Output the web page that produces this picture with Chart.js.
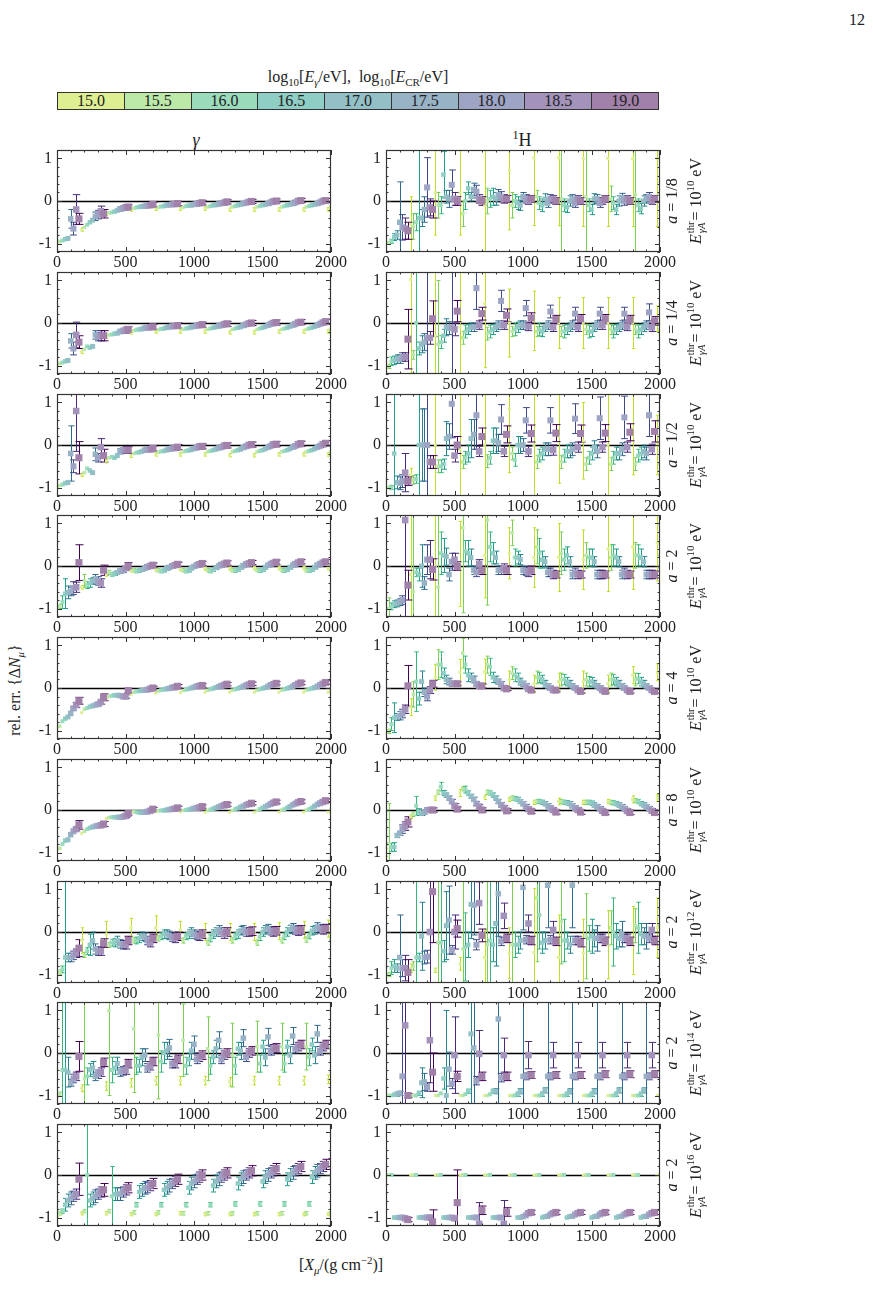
<!DOCTYPE html>
<html>
<head>
<meta charset="utf-8">
<script src="https://cdn.jsdelivr.net/npm/chart.js@4.4.1/dist/chart.umd.min.js"></script>
<style>
  body { margin: 0; background: #fff; }
  #page { position: relative; width: 873px; height: 1305px; overflow: hidden; font-family: "Liberation Serif", "DejaVu Serif", serif; color: #222; }
  .abs { position: absolute; white-space: nowrap; }
  .rot { transform: translate(-50%, -50%) rotate(-90deg); }
  .ctr { transform: translate(-50%, -50%); }
  canvas { position: absolute; }
  .ss { display: inline-block; vertical-align: middle; font-size: 0.66em; line-height: 1.0; text-align: left; margin: 0 1px; }
  sup, sub { font-size: 0.68em; line-height: 0; }
  #cbar { position: absolute; left: 57px; top: 92px; width: 602px; height: 18px; display: flex; border: 1px solid #333; box-sizing: border-box; }
  #cbar div { flex: 1; text-align: center; font-size: 16px; line-height: 16px; border-right: 1px solid #333; }
  #cbar div:last-child { border-right: none; }
</style>
</head>
<body>
<div id="page">
  <div class="abs ctr" style="left:857px; top:20px; font-size:16px;">12</div>
  <div class="abs ctr" style="left:358px; top:77px; font-size:16px;">log<sub>10</sub>[<i>E</i><sub><i>γ</i></sub>/eV], &nbsp;log<sub>10</sub>[<i>E</i><sub>CR</sub>/eV]</div>
  <div id="cbar"></div>
  <div class="abs ctr" style="left:196px; top:140px; font-size:18px;"><i>γ</i></div>
  <div class="abs ctr" style="left:522px; top:140px; font-size:18px;"><sup>1</sup>H</div>
  <div class="abs rot" style="left:15px; top:690px; font-size:16px;">rel. err. {Δ<i>N</i><sub><i>μ</i></sub>}</div>
  <div class="abs ctr" style="left:341px; top:1265px; font-size:16px;">[<i>X</i><sub><i>μ</i></sub>/(g cm<sup>−2</sup>)]</div>
</div>
<script>
// energy classes, log10(E/eV)
const energies = ["15.0", "15.5", "16.0", "16.5", "17.0", "17.5", "18.0", "18.5", "19.0"];
// X_mu bins (g cm^-2), each energy drawn 20 g cm^-2 to the right of the previous one
const binX = [0, 180, 360, 540, 720, 900, 1080, 1260, 1440, 1620, 1800, 1980];
const energyStep = 20;
const xTicks = [0, 500, 1000, 1500, 2000];
const yTicks = [-1, 0, 1];
const rowA = ["1/8", "1/4", "1/2", "2", "4", "8", "2", "2", "2"];
const rowThr = ["10", "10", "10", "10", "10", "10", "12", "14", "16"];

const fillColors = ["#deef92", "#bce8a8", "#9adbbc", "#8fcec4", "#92c0c6", "#98b3c6", "#9ea4c4", "#a393bb", "#a180a9"];
const barColors = ["#bddf26", "#7ad151", "#35b779", "#1f9e89", "#26828e", "#31688e", "#3e4989", "#482878", "#440154"];

// ---------- gamma column ----------
const gammaR1 = [
  [-0.97,-0.67,-0.3,-0.2,-0.18,-0.18,-0.18,-0.2,-0.2,-0.2,-0.2,-0.2],
  [-0.95,-0.62,-0.28,-0.17,-0.15,-0.15,-0.14,-0.14,-0.14,-0.14,-0.14,-0.14],
  [-0.93,-0.56,-0.27,-0.15,-0.13,-0.12,-0.12,-0.12,-0.12,-0.12,-0.12,-0.12],
  [-0.9,-0.5,-0.25,-0.14,-0.12,-0.11,-0.1,-0.1,-0.1,-0.1,-0.1,-0.1],
  [-0.88,-0.45,-0.22,-0.13,-0.1,-0.1,-0.09,-0.08,-0.08,-0.08,-0.08,-0.08],
  [-0.42,-0.36,-0.19,-0.12,-0.09,-0.08,-0.07,-0.06,-0.06,-0.06,-0.06,-0.06],
  [-0.65,-0.32,-0.17,-0.11,-0.08,-0.07,-0.05,-0.04,-0.03,-0.03,-0.03,-0.03],
  [-0.2,-0.24,-0.15,-0.1,-0.07,-0.05,-0.04,-0.02,-0.01,0,0,0],
  [-0.42,-0.3,-0.14,-0.08,-0.06,-0.04,-0.02,-0.01,0,0.01,0.01,0.01]
];
const gammaR1Err = [0.04, 0.03, 0.03, 0.03, 0.03,
  [0.22,0.1,0.05,0.04,0.04,0.04,0.04,0.04,0.04,0.04,0.04,0.04],
  [0.15,0.1,0.05,0.04,0.04,0.04,0.04,0.04,0.04,0.04,0.04,0.04],
  [0.35,0.12,0.06,0.05,0.05,0.05,0.05,0.05,0.05,0.05,0.05,0.05],
  [0.13,0.1,0.05,0.05,0.05,0.05,0.05,0.05,0.05,0.05,0.05,0.05]];

const gammaR2 = [
  [-0.97,-0.68,-0.32,-0.22,-0.2,-0.2,-0.2,-0.22,-0.22,-0.2,-0.2,-0.2],
  [-0.95,-0.62,-0.28,-0.18,-0.16,-0.15,-0.15,-0.15,-0.15,-0.15,-0.15,-0.15],
  [-0.93,-0.55,-0.27,-0.16,-0.14,-0.13,-0.13,-0.13,-0.13,-0.13,-0.13,-0.13],
  [-0.9,-0.58,-0.25,-0.15,-0.13,-0.12,-0.11,-0.11,-0.11,-0.11,-0.11,-0.11],
  [-0.88,-0.55,-0.24,-0.14,-0.11,-0.1,-0.09,-0.09,-0.08,-0.08,-0.08,-0.08],
  [-0.42,-0.28,-0.2,-0.12,-0.09,-0.08,-0.07,-0.06,-0.05,-0.05,-0.05,-0.05],
  [-0.6,-0.32,-0.18,-0.11,-0.08,-0.06,-0.05,-0.03,-0.02,-0.02,-0.02,-0.02],
  [-0.28,-0.3,-0.17,-0.1,-0.07,-0.05,-0.03,-0.01,0,0.01,0.01,0.01],
  [-0.45,-0.3,-0.15,-0.09,-0.06,-0.04,-0.02,0,0.01,0.02,0.03,0.03]
];
const gammaR2Err = [0.04, 0.03, 0.03, 0.03, 0.03,
  [0.17,0.1,0.05,0.04,0.04,0.04,0.04,0.04,0.04,0.04,0.04,0.04],
  [0.15,0.1,0.05,0.04,0.04,0.04,0.04,0.04,0.04,0.04,0.04,0.04],
  [0.3,0.12,0.07,0.05,0.05,0.05,0.05,0.05,0.05,0.05,0.05,0.05],
  [0.15,0.12,0.06,0.06,0.06,0.06,0.06,0.06,0.06,0.06,0.06,0.06]];

const gammaR3 = [
  [-0.97,-0.7,-0.38,-0.25,-0.22,-0.22,-0.22,-0.24,-0.24,-0.22,-0.22,-0.22],
  [-0.95,-0.65,-0.3,-0.2,-0.17,-0.16,-0.16,-0.16,-0.16,-0.16,-0.16,-0.16],
  [-0.93,-0.55,-0.28,-0.18,-0.15,-0.14,-0.14,-0.14,-0.14,-0.14,-0.14,-0.14],
  [-0.9,-0.6,-0.3,-0.17,-0.14,-0.13,-0.12,-0.12,-0.12,-0.12,-0.12,-0.12],
  [-0.88,-0.65,-0.25,-0.15,-0.12,-0.11,-0.1,-0.1,-0.09,-0.09,-0.09,-0.09],
  [-0.2,-0.22,-0.15,-0.12,-0.1,-0.08,-0.07,-0.06,-0.05,-0.05,-0.05,-0.05],
  [-0.5,-0.3,-0.12,-0.11,-0.08,-0.06,-0.05,-0.03,-0.02,-0.02,-0.02,-0.02],
  [0.8,-0.05,-0.12,-0.1,-0.07,-0.04,-0.02,0,0.01,0.02,0.02,0.02],
  [-0.3,-0.25,-0.12,-0.08,-0.05,-0.03,-0.01,0.01,0.02,0.03,0.04,0.04]
];
const gammaR3Err = [0.04, 0.03, 0.03, 0.03, 0.03,
  [0.65,0.15,0.06,0.04,0.04,0.04,0.04,0.04,0.04,0.04,0.04,0.04],
  [0.15,0.1,0.05,0.04,0.04,0.04,0.04,0.04,0.04,0.04,0.04,0.04],
  [0.95,0.2,0.08,0.06,0.06,0.06,0.06,0.06,0.06,0.06,0.06,0.06],
  [0.38,0.15,0.08,0.06,0.06,0.06,0.06,0.06,0.06,0.06,0.06,0.06]];

const gammaR4 = [
  [-0.98,-0.5,-0.2,-0.1,-0.08,-0.07,-0.06,-0.06,-0.05,-0.05,-0.05,-0.05],
  [-0.95,-0.35,-0.15,-0.1,-0.1,-0.1,-0.1,-0.1,-0.1,-0.1,-0.1,-0.1],
  [-0.85,-0.45,-0.2,-0.12,-0.12,-0.12,-0.12,-0.11,-0.11,-0.11,-0.11,-0.11],
  [-0.65,-0.4,-0.18,-0.11,-0.1,-0.1,-0.09,-0.08,-0.08,-0.08,-0.08,-0.08],
  [-0.62,-0.35,-0.15,-0.08,-0.06,-0.05,-0.04,-0.03,-0.03,-0.03,-0.03,-0.03],
  [-0.6,-0.3,-0.12,-0.05,-0.03,-0.01,0,0.01,0.02,0.02,0.02,0.02],
  [-0.52,-0.35,-0.1,-0.02,0,0.02,0.03,0.04,0.05,0.05,0.05,0.05],
  [-0.5,-0.4,-0.05,0,0.02,0.04,0.05,0.06,0.07,0.08,0.08,0.08],
  [0.08,-0.1,0,0.02,0.04,0.06,0.07,0.08,0.09,0.1,0.1,0.1]
];
const gammaR4Err = [0.04,
  [0.05,0.15,0.05,0.04,0.04,0.04,0.04,0.04,0.04,0.04,0.04,0.04],
  [0.15,0.08,0.04,0.04,0.04,0.04,0.04,0.04,0.04,0.04,0.04,0.04],
  [0.35,0.1,0.04,0.04,0.04,0.04,0.04,0.04,0.04,0.04,0.04,0.04],
  [0.15,0.08,0.04,0.04,0.04,0.04,0.04,0.04,0.04,0.04,0.04,0.04],
  [0.1,0.1,0.05,0.04,0.04,0.04,0.04,0.04,0.04,0.04,0.04,0.04],
  [0.15,0.1,0.05,0.05,0.05,0.05,0.05,0.05,0.05,0.05,0.05,0.05],
  [0.12,0.1,0.05,0.05,0.05,0.05,0.05,0.05,0.05,0.05,0.05,0.05],
  [0.42,0.12,0.08,0.05,0.05,0.05,0.05,0.05,0.05,0.05,0.05,0.05]];

const gammaR5 = [
  [-0.98,-0.58,-0.25,-0.15,-0.12,-0.11,-0.1,-0.1,-0.1,-0.1,-0.1,-0.1],
  [-0.9,-0.5,-0.2,-0.1,-0.07,-0.06,-0.05,-0.05,-0.05,-0.05,-0.05,-0.05],
  [-0.78,-0.47,-0.18,-0.08,-0.05,-0.04,-0.03,-0.03,-0.03,-0.03,-0.03,-0.03],
  [-0.72,-0.44,-0.17,-0.07,-0.03,-0.02,-0.01,-0.01,-0.01,-0.01,-0.01,-0.01],
  [-0.68,-0.42,-0.17,-0.06,-0.02,0,0.01,0.01,0.01,0.01,0.01,0.01],
  [-0.6,-0.4,-0.18,-0.05,-0.01,0.02,0.03,0.04,0.04,0.04,0.04,0.04],
  [-0.48,-0.38,-0.2,-0.04,0.01,0.04,0.05,0.06,0.07,0.07,0.07,0.07],
  [-0.4,-0.33,-0.2,-0.02,0.02,0.05,0.07,0.08,0.09,0.1,0.1,0.1],
  [-0.3,-0.22,-0.06,0,0.04,0.06,0.09,0.1,0.11,0.12,0.13,0.13]
];
const gammaR5Err = [0.03, 0.03, 0.03, 0.03, 0.03, 0.03, 0.04,
  [0.06,0.05,0.04,0.04,0.04,0.04,0.04,0.04,0.04,0.04,0.04,0.04],
  [0.08,0.08,0.05,0.04,0.04,0.04,0.04,0.04,0.04,0.04,0.04,0.04]];

const gammaR6 = [
  [-0.95,-0.55,-0.2,-0.05,-0.04,-0.04,-0.05,-0.05,-0.05,-0.05,-0.05,-0.05],
  [-0.9,-0.5,-0.18,-0.04,-0.02,-0.01,-0.01,-0.01,-0.01,0,0,0],
  [-0.8,-0.45,-0.17,-0.05,-0.01,0,0.01,0.02,0.02,0.02,0.02,0.02],
  [-0.72,-0.42,-0.17,-0.06,-0.01,0.01,0.03,0.04,0.05,0.05,0.05,0.05],
  [-0.7,-0.4,-0.17,-0.06,0,0.02,0.05,0.07,0.08,0.08,0.09,0.09],
  [-0.58,-0.38,-0.17,-0.05,0.01,0.04,0.07,0.09,0.11,0.12,0.13,0.13],
  [-0.5,-0.37,-0.16,-0.04,0.02,0.05,0.09,0.12,0.14,0.15,0.16,0.16],
  [-0.45,-0.36,-0.14,-0.02,0.03,0.06,0.11,0.14,0.17,0.18,0.19,0.19],
  [-0.35,-0.33,-0.08,0.02,0.05,0.08,0.13,0.16,0.19,0.2,0.22,0.22]
];
const gammaR6Err = [0.03, 0.03, 0.03, 0.03, 0.03, 0.03, 0.03, 0.04,
  [0.1,0.06,0.04,0.04,0.04,0.04,0.04,0.04,0.04,0.04,0.04,0.04]];

const gammaR7 = [
  [-0.98,-0.2,-0.05,0.1,0.1,0.05,0,0,0,0.02,0.05,0.08],
  [-0.95,-0.54,-0.3,-0.2,-0.15,-0.2,-0.25,-0.2,-0.25,-0.2,-0.18,-0.15],
  [-0.88,-0.45,-0.25,-0.2,-0.1,-0.1,-0.15,-0.1,-0.12,-0.1,-0.08,-0.08],
  [-0.6,-0.3,-0.25,-0.15,-0.05,-0.05,-0.05,-0.05,0,0,0.03,0.03],
  [-0.6,-0.2,-0.2,-0.1,-0.05,0,0,0.03,0.05,0.06,0.05,0.05],
  [-0.6,-0.4,-0.28,-0.12,-0.08,-0.05,0.05,0.05,0.08,0.1,0.12,0.12],
  [-0.55,-0.45,-0.3,-0.2,-0.12,-0.08,0,0,0.03,0.05,0.08,0.08],
  [-0.5,-0.45,-0.3,-0.25,-0.15,-0.1,-0.05,0,0,0.02,0.05,0.05],
  [-0.38,-0.26,-0.2,-0.15,-0.1,-0.05,0,0.02,0.03,0.05,0.08,0.08]
];
const gammaR7Err = [
  [0.04,0.3,0.3,0.22,0.28,0.2,0.2,0.2,0.2,0.2,0.2,0.2],
  0.06, 0.08,
  [1.8,0.25,0.1,0.1,0.1,0.1,0.1,0.1,0.1,0.1,0.1,0.1],
  [0.1,0.2,0.1,0.1,0.1,0.1,0.1,0.1,0.1,0.1,0.1,0.1],
  [0.1,0.12,0.1,0.1,0.1,0.1,0.1,0.1,0.1,0.1,0.1,0.1],
  0.1, 0.1,
  [0.2,0.1,0.1,0.1,0.1,0.1,0.1,0.1,0.1,0.1,0.1,0.1]];

const gammaR8 = [
  [-1.05,-0.83,-0.78,-0.7,-0.65,-0.65,-0.65,-0.68,-0.65,-0.65,-0.65,-0.62],
  [-0.97,-0.6,1.0,0.57,0.42,0.3,0.1,-0.05,0.15,0.15,0.15,0.1],
  [-0.4,-0.55,-0.4,-0.3,-0.2,-0.3,-0.3,-0.3,-0.25,-0.25,-0.1,-0.1],
  [-0.4,-0.4,-0.35,-0.3,0,-0.15,-0.1,0.1,0.15,0.15,0.2,0.2],
  [-0.45,-0.35,-0.25,-0.1,0.05,0.05,0.1,0.05,-0.1,-0.05,-0.05,-0.05],
  [-0.7,-0.55,-0.45,-0.05,0.12,0.2,0.3,0.35,0.38,0.4,0.45,0.45],
  [-0.6,-0.5,-0.42,-0.35,-0.25,-0.15,-0.15,-0.1,0.05,0.1,0.05,0.05],
  [-0.55,-0.45,-0.4,-0.3,-0.25,-0.1,-0.05,0,0.1,0.15,0.15,0.15],
  [-0.08,-0.22,-0.25,-0.2,-0.15,-0.05,0,0.05,0.12,0.2,0.2,0.2]
];
const gammaR8Err = [
  [0.65,0.08,0.1,0.1,0.1,0.1,0.1,0.1,0.1,0.1,0.1,0.1],
  [0.05,1.8,2,1.5,1.5,0.85,0.75,0.75,0.6,0.55,0.55,0.55],
  [2,0.2,0.3,0.2,0.25,0.2,0.2,0.2,0.2,0.2,0.2,0.2],
  [1.8,0.15,0.15,0.15,0.25,0.15,0.15,0.15,0.15,0.15,0.15,0.15],
  [0.35,0.15,0.15,0.2,0.2,0.2,0.2,0.2,0.2,0.2,0.2,0.2],
  [0.08,0.1,0.1,0.15,0.2,0.2,0.2,0.2,0.2,0.2,0.2,0.2],
  0.1, 0.1,
  [0.35,0.1,0.1,0.1,0.1,0.1,0.1,0.1,0.1,0.1,0.1,0.1]];

const gammaR9 = [
  [-0.95,-0.9,-0.9,-0.92,-0.92,-0.9,-0.92,-0.92,-0.92,-0.92,-0.92,-0.92],
  [-0.9,-0.85,-0.85,-0.88,-0.88,-0.9,-0.9,-0.9,-0.9,-0.9,-0.9,-0.9],
  [-0.85,0,-0.5,-0.7,-0.7,-0.7,-0.7,-0.68,-0.68,-0.68,-0.68,-0.68],
  [-0.7,-0.6,-0.45,-0.4,-0.35,-0.3,-0.25,-0.2,-0.15,-0.1,-0.05,-0.05],
  [-0.6,-0.55,-0.45,-0.35,-0.3,-0.2,-0.15,-0.1,-0.05,0,0.05,0.05],
  [-0.55,-0.5,-0.45,-0.3,-0.25,-0.15,-0.1,-0.05,0,0.05,0.1,0.1],
  [-0.5,-0.45,-0.4,-0.3,-0.2,-0.1,-0.05,0,0.05,0.1,0.15,0.15],
  [-0.45,-0.4,-0.35,-0.25,-0.15,-0.05,0,0.05,0.1,0.15,0.2,0.2],
  [-0.1,-0.35,-0.3,-0.2,-0.1,0,0.05,0.1,0.15,0.2,0.25,0.25]
];
const gammaR9Err = [0.04, 0.04,
  [0.05,1.8,0.7,0.05,0.05,0.05,0.05,0.05,0.05,0.05,0.05,0.05],
  0.15, 0.15, 0.15, 0.12, 0.12,
  [0.38,0.15,0.12,0.12,0.12,0.12,0.12,0.12,0.12,0.12,0.12,0.12]];

// ---------- 1H column ----------
const protonR1 = [
  [-0.98,-0.55,0.2,0.2,-0.1,0.72,1.02,1.02,1.0,1.0,1.0,1.0],
  [-0.98,-0.6,-0.1,-0.3,0,-0.1,0.1,0.05,0.1,0.05,0.15,0.15],
  [-0.95,-0.5,-0.1,0,0.05,0,-0.05,-0.1,-0.1,-0.05,-0.1,-0.1],
  [-0.85,-0.4,0.62,0.3,0.1,-0.05,-0.1,-0.15,-0.2,-0.2,-0.18,-0.18],
  [-0.8,-0.4,0.1,0.1,0.05,-0.1,0.05,0,0.05,0,0,0],
  [-0.5,-0.2,0.05,0.27,0.15,0.1,-0.05,0.05,0.05,0.08,0.05,0.05],
  [-0.62,0.32,0.38,0.22,0.1,0.05,0.05,-0.05,-0.05,0,0.1,0.1],
  [-0.65,-0.15,0.05,0.05,0.05,0,0.05,0.05,0,0.05,0,0],
  [-0.7,-0.2,0,0,0.05,0.05,0,0,0.05,0,0.05,0.05]
];
const protonR1Err = [
  [0.03,0.65,1.0,1.0,1.4,1.4,1.6,1.6,1.6,1.6,1.6,1.6],
  [0.03,0.3,0.3,0.3,0.3,0.3,0.15,1.5,1.5,0.3,1.5,0.3],
  [0.05,0.2,0.2,0.2,0.2,0.15,0.15,0.15,0.15,0.15,0.15,0.15],
  [0.08,1.8,0.55,0.15,0.2,0.15,0.15,0.12,0.12,0.12,0.12,0.12],
  [0.1,0.2,0.15,0.1,0.15,0.12,0.12,0.12,0.12,0.12,0.12,0.12],
  [0.95,0.3,0.2,0.15,0.12,0.1,0.1,0.1,0.1,0.1,0.1,0.1],
  [0.3,0.7,0.35,0.15,0.12,0.1,0.1,0.1,0.1,0.1,0.1,0.1],
  [0.25,0.2,0.15,0.1,0.1,0.08,0.08,0.08,0.08,0.08,0.08,0.08],
  [0.2,0.2,0.1,0.1,0.08,0.08,0.08,0.08,0.08,0.08,0.08,0.08]];

const protonR2 = [
  [-1,1.02,-0.3,-0.1,0.45,0,0.05,0,0,0,0,0.1],
  [-1.02,-0.75,-0.5,-0.35,-0.25,-0.2,-0.2,-0.2,-0.15,-0.15,-0.15,-0.15],
  [-0.9,0,-0.45,-0.2,-0.2,-0.15,-0.15,-0.2,-0.2,-0.2,-0.2,-0.2],
  [-0.88,-0.6,-0.3,-0.15,-0.15,-0.1,-0.2,-0.15,-0.2,-0.15,-0.15,-0.15],
  [-0.85,-0.5,-0.1,-0.1,-0.1,-0.05,-0.1,-0.1,-0.1,-0.1,-0.1,-0.1],
  [-0.85,-0.45,-0.12,-0.1,-0.05,-0.05,-0.05,-0.05,-0.05,-0.05,-0.05,-0.05],
  [-0.8,-0.35,-0.1,0.82,0.52,0.35,0.27,0.22,0.22,0.22,0.25,0.25],
  [-0.8,-0.35,-0.15,-0.05,-0.05,-0.08,-0.1,-0.1,-0.05,-0.08,-0.1,-0.1],
  [-0.38,0.1,0.28,0.22,0.18,0.12,0.08,0.1,0.1,0.08,0.05,0.05]
];
const protonR2Err = [
  [0.03,2.2,1.6,2.0,1.5,0.8,0.7,0.6,0.6,0.6,0.6,0.3],
  [0.05,0.1,1.5,0.15,0.15,0.12,0.12,0.12,0.12,0.12,0.12,0.12],
  [0.1,1.2,0.15,0.15,0.15,0.15,0.15,0.15,0.15,0.15,0.15,0.15],
  [0.1,0.15,0.15,0.12,0.12,0.12,0.12,0.12,0.12,0.12,0.12,0.12],
  [0.1,0.2,0.2,0.1,0.1,0.1,0.1,0.1,0.1,0.1,0.1,0.1],
  [0.1,0.2,0.15,0.1,0.1,0.1,0.1,0.1,0.1,0.1,0.1,0.1],
  [0.1,1.6,1.5,0.5,0.25,0.18,0.15,0.15,0.15,0.15,0.2,0.2],
  [0.1,0.15,0.15,0.1,0.1,0.1,0.1,0.1,0.1,0.1,0.1,0.1],
  [0.7,0.42,0.25,0.15,0.15,0.12,0.1,0.1,0.1,0.1,0.1,0.1]];

const protonR3 = [
  [-1,-0.7,0,-0.1,0,0.85,0,0.2,0.1,0,0.4,0],
  [-1,-0.82,-0.5,-0.4,-0.38,-0.2,-0.4,-0.4,-0.45,-0.45,-0.45,-0.45],
  [-1,-0.8,-0.5,-0.3,-0.3,-0.35,-0.25,-0.25,-0.3,-0.3,-0.25,-0.25],
  [-0.2,0,-0.45,-0.2,0.1,0,-0.2,-0.15,-0.2,-0.2,-0.2,-0.2],
  [-0.88,0,0.15,0.15,0.1,0,-0.1,-0.15,-0.05,-0.2,-0.15,-0.15],
  [-0.9,0,0.2,0.25,0.05,0,-0.1,-0.1,-0.15,-0.1,-0.2,-0.2],
  [-0.85,0,0.97,0.7,0.6,0.58,0.58,0.62,0.63,0.65,0.7,0.7],
  [-0.65,-0.4,-0.25,-0.15,-0.15,-0.15,-0.12,-0.05,-0.05,-0.05,-0.1,-0.1],
  [-0.85,-0.4,0,0.2,0.25,0.27,0.28,0.27,0.28,0.3,0.32,0.32]
];
const protonR3Err = [
  [0.03,0.15,2,2,2,1.5,2,1.1,0.9,1.5,1.1,0.7],
  [0.03,0.1,0.15,0.15,0.15,0.15,0.15,0.15,0.15,0.15,0.15,0.15],
  [0.05,0.1,0.15,0.15,0.15,0.15,0.15,0.15,0.15,0.15,0.15,0.15],
  [2,1.5,0.12,0.2,0.3,0.2,0.15,0.15,0.15,0.15,0.15,0.15],
  [0.15,0.85,0.4,0.45,0.3,0.2,0.15,0.15,0.15,0.15,0.15,0.15],
  [0.15,0.85,0.3,0.35,0.2,0.15,0.15,0.15,0.15,0.15,0.15,0.15],
  [0.15,2,0.8,0.8,0.35,0.3,0.3,0.35,0.5,0.5,0.5,0.5],
  [0.45,0.15,0.15,0.12,0.12,0.12,0.12,0.12,0.12,0.12,0.12,0.12],
  [0.1,0.15,0.2,0.2,0.2,0.2,0.2,0.2,0.2,0.2,0.25,0.25]];

const protonR4 = [
  [-1,-0.2,0,0.05,0.25,0.3,0.2,0.2,0.15,0.4,0.45,0.55],
  [-1,-0.6,-0.5,0.9,1.08,0.78,0.45,0.3,0.25,0.2,0.25,0.25],
  [-0.95,-0.15,0.3,0.35,0.45,0.2,0.3,0.15,0.2,0.25,0.25,0.25],
  [-0.9,-0.2,0.25,0.3,0.3,0.2,0.15,0.25,0.2,0.2,0.2,0.2],
  [-0.88,0,0.22,0.2,0.2,0.15,0.1,0.1,0.1,0.1,0.1,0.1],
  [-0.85,-0.4,-0.2,-0.1,-0.1,-0.1,-0.15,-0.2,-0.2,-0.2,-0.2,-0.2],
  [-0.8,0.15,0.1,-0.15,-0.1,-0.12,-0.15,-0.15,-0.2,-0.15,-0.2,-0.2],
  [1.08,0.15,0.15,0.05,-0.05,-0.15,-0.2,-0.2,-0.2,-0.2,-0.2,-0.2],
  [-0.45,-0.08,0,-0.1,-0.1,-0.1,-0.2,-0.2,-0.2,-0.2,-0.2,-0.2]
];
const protonR4Err = [
  [0.03,2,1.4,1,1,0.6,0.7,0.8,0.7,1,1,0.9],
  [0.25,2,2,2,2,0.3,0.4,0.5,0.3,0.3,0.3,0.3],
  [0.08,0.1,0.5,0.25,0.35,0.2,0.35,0.25,0.2,0.25,0.25,0.25],
  [0.08,0.15,0.4,0.3,0.25,0.15,0.2,0.2,0.2,0.2,0.2,0.2],
  [0.08,0.5,0.2,0.2,0.15,0.12,0.12,0.12,0.12,0.12,0.12,0.12],
  [0.08,0.15,0.15,0.1,0.1,0.1,0.1,0.1,0.1,0.1,0.1,0.1],
  [0.1,0.35,0.2,0.1,0.1,0.1,0.1,0.1,0.1,0.1,0.1,0.1],
  [2.3,0.45,0.15,0.1,0.1,0.1,0.1,0.1,0.1,0.1,0.1,0.1],
  [0.35,0.25,0.1,0.1,0.1,0.1,0.08,0.08,0.08,0.08,0.08,0.08]];

const protonR5 = [
  [-1,-0.45,0.25,0.37,0.38,0.2,0.1,0.15,0.15,0.1,0.3,0.37],
  [-1.02,-0.15,0.55,0.82,0.55,0.35,0.25,0.2,0.2,0.2,0.2,0.2],
  [-0.85,0.15,0.55,0.55,0.5,0.3,0.25,0.2,0.15,0.2,0.22,0.22],
  [-0.7,-0.25,0.35,0.3,0.25,0.25,0.2,0.15,0.15,0.15,0.15,0.15],
  [-0.68,0.15,0.2,0.25,0.2,0.15,0.1,0.1,0.1,0.1,0.1,0.1],
  [-0.65,-0.1,0.15,0.2,0.15,0.1,0.05,0.05,0.05,0.05,0.05,0.05],
  [-0.6,-0.2,0.1,0.1,0.1,0.05,0,0,0,0,0,0],
  [-0.5,-0.05,0.1,0.05,0,-0.02,-0.05,-0.05,-0.05,-0.05,-0.05,-0.05],
  [0.05,0.1,0.1,0.05,-0.02,-0.05,-0.05,-0.08,-0.08,-0.08,-0.08,-0.08]
];
const protonR5Err = [
  [0.03,0.2,0.3,0.3,0.3,0.2,0.2,0.2,0.25,0.2,0.2,0.2],
  [0.05,0.3,0.35,0.35,0.2,0.15,0.15,0.15,0.15,0.15,0.15,0.15],
  [0.15,0.7,0.3,0.2,0.2,0.15,0.12,0.12,0.12,0.12,0.12,0.12],
  [0.35,0.15,0.12,0.15,0.12,0.1,0.1,0.1,0.1,0.1,0.1,0.1],
  [0.08,0.25,0.1,0.1,0.08,0.08,0.08,0.08,0.08,0.08,0.08,0.08],
  [0.1,0.1,0.08,0.08,0.06,0.06,0.05,0.05,0.05,0.05,0.05,0.05],
  [0.1,0.1,0.06,0.05,0.05,0.05,0.05,0.05,0.05,0.05,0.05,0.05],
  [0.1,0.08,0.05,0.05,0.05,0.05,0.04,0.04,0.04,0.04,0.04,0.04],
  [0.48,0.08,0.05,0.05,0.04,0.04,0.04,0.04,0.04,0.04,0.04,0.04]];

const protonR6 = [
  [-1,-0.15,0.28,0.4,0.3,0.25,0.18,0.2,0.18,0.2,0.25,0.28],
  [-0.8,-0.1,0.42,0.5,0.42,0.28,0.2,0.2,0.18,0.18,0.22,0.3],
  [-0.88,0.1,0.55,0.48,0.4,0.27,0.2,0.18,0.18,0.17,0.2,0.2],
  [-0.87,-0.05,0.4,0.4,0.35,0.25,0.18,0.17,0.16,0.15,0.15,0.15],
  [-0.6,-0.08,0.35,0.32,0.28,0.2,0.15,0.15,0.12,0.12,0.12,0.12],
  [-0.55,-0.05,0.28,0.25,0.2,0.15,0.1,0.1,0.08,0.08,0.08,0.08],
  [-0.45,0,0.2,0.15,0.12,0.08,0.05,0.05,0.03,0.03,0.03,0.03],
  [-0.38,0,0.1,0.08,0.05,0.02,0,0,-0.02,-0.02,-0.02,-0.02],
  [-0.28,0,0.02,0,-0.02,-0.03,-0.05,-0.05,-0.06,-0.06,-0.06,-0.06]
];
const protonR6Err = [
  [0.1,0.05,0.05,0.08,0.05,0.05,0.05,0.08,0.05,0.05,0.08,0.08],
  [0.95,0.05,0.05,0.05,0.05,0.05,0.05,0.05,0.05,0.05,0.05,0.05],
  [0.1,0.22,0.1,0.08,0.05,0.05,0.05,0.05,0.05,0.05,0.05,0.05],
  [0.1,0.08,0.06,0.05,0.05,0.05,0.05,0.05,0.05,0.05,0.05,0.05],
  0.05, 0.05,
  [0.1,0.05,0.05,0.05,0.05,0.05,0.05,0.05,0.05,0.05,0.05,0.05],
  [0.1,0.05,0.05,0.05,0.05,0.05,0.05,0.05,0.05,0.05,0.05,0.05],
  [0.12,0.05,0.05,0.05,0.05,0.05,0.05,0.05,0.05,0.05,0.05,0.05]];

const protonR7 = [
  [-1,-0.85,-0.9,-0.75,-0.6,-0.5,-0.48,-0.6,-0.5,-0.3,-0.2,0.1],
  [-1,-0.8,-0.25,-0.4,-0.3,-0.3,0.8,0.25,-0.1,0.1,0.15,0.15],
  [-0.85,-0.6,-0.25,-0.35,-0.2,-0.3,0.4,-0.2,-0.15,0,0.1,0.1],
  [-0.8,-0.6,-0.45,-0.3,-0.3,-0.3,-0.25,-0.2,-0.1,-0.1,-0.05,-0.05],
  [-0.85,-0.1,0.15,0.65,0.2,-0.2,-0.2,-0.3,-0.15,-0.15,-0.1,-0.1],
  [-0.6,-0.6,0.28,0.63,0.9,1.05,1.1,1.1,-0.15,-0.05,-0.1,-0.1],
  [-0.85,-0.58,-0.42,-0.3,-0.22,-0.18,-0.18,-0.2,-0.15,-0.15,-0.15,-0.15],
  [-0.85,0,0,0.68,0.38,0.2,0.05,-0.2,-0.15,-0.15,0.05,0.05],
  [-0.95,0.95,0.08,-0.08,-0.15,-0.2,-0.22,-0.25,-0.22,-0.22,-0.2,-0.2]
];
const protonR7Err = [
  [0.03,0.1,0.05,0.15,0.65,0.6,1.5,1,0.8,0.8,0.8,0.7],
  [0.05,0.1,2,2,2,1.5,1.5,1,1,0.4,0.4,0.4],
  [0.15,2,2,0.8,2,0.3,0.8,0.5,0.3,0.8,0.6,0.6],
  [0.15,0.1,0.25,0.3,0.4,0.2,0.25,0.2,0.4,0.3,0.25,0.25],
  [0.1,0.8,0.8,0.8,1,0.2,0.2,0.2,0.2,0.2,0.2,0.2],
  [1,0.15,0.8,0.7,1,1,1,1,0.3,0.3,0.3,0.3],
  [0.2,0.15,0.1,0.12,0.1,0.1,0.1,0.1,0.1,0.1,0.1,0.1],
  [0.3,2,0.4,0.5,0.3,0.2,0.2,0.1,0.1,0.1,0.15,0.15],
  [0.3,1.2,0.2,0.15,0.1,0.1,0.1,0.1,0.1,0.1,0.1,0.1]];

const protonR8 = [
  [-1,-1,-1,-1,-1,-1,-1,-1,-1,-1,-1,-1],
  [-1,-1,-1,-1,-1,-1,-1,-1,-1,-1,-1,-1],
  [-1,-1,-0.95,-0.97,-0.97,-1,-1,-1,-1,-1,-1,-1],
  [-0.98,-0.95,-0.6,-0.9,-0.9,-0.97,-0.97,-0.97,-0.97,-0.97,-0.97,-0.97],
  [-0.97,-0.7,-1,0.45,-0.9,-0.9,-0.88,-0.9,-0.9,-0.88,-0.88,-0.88],
  [-0.95,-0.68,-0.38,0.12,0.8,-0.55,-0.55,-0.55,-0.55,-0.55,-0.55,-0.55],
  [-0.55,-0.8,-0.72,-0.65,-0.58,-0.55,-0.55,-0.55,-0.55,-0.55,-0.55,-0.55],
  [0.65,0.3,-0.05,-0.02,-0.05,-0.05,-0.05,-0.05,-0.05,-0.05,-0.05,-0.05],
  [-1,-0.45,-0.55,-0.55,-0.55,-0.52,-0.52,-0.52,-0.5,-0.5,-0.5,-0.5]
];
const protonR8Err = [0.02, 0.02, 0.03,
  [0.03,0.05,0.25,0.05,0.05,0.05,0.05,0.05,0.05,0.05,0.05,0.05],
  [0.05,0.35,2,2,0.06,0.06,0.06,0.06,0.06,0.06,0.06,0.06],
  [0.05,0.2,0.4,2,2,2,2,2,2,2,2,2],
  [2,0.1,0.12,0.1,0.1,0.08,0.08,0.08,0.08,0.08,0.08,0.08],
  [2,1,0.9,0.55,0.4,0.32,0.3,0.3,0.3,0.3,0.3,0.3],
  [0.05,0.45,0.12,0.1,0.1,0.08,0.08,0.08,0.08,0.08,0.08,0.08]];

const protonR9 = [
  [0,0,0,0,0,0,0,0,0,0,0,0],
  [0,0,0,0,0,0,0,0,0,0,0,0],
  [0,0,0,0,0,0,0,0,0,0,0,0],
  [-1,-1,-1,-1,-1,-1,-1,-1,-1,-1,-1,-1],
  [-1,-1,-1,-1,-1,-1,-0.98,-0.98,-0.98,-0.98,-0.98,-0.98],
  [-1,-1,-1,-1,-1,-0.98,-0.97,-0.97,-0.97,-0.97,-0.97,-0.97],
  [-1,-1,-1,-1,-1,-0.95,-0.93,-0.93,-0.93,-0.93,-0.93,-0.93],
  [-1.02,-1,-1.02,-1.15,-1.15,-0.9,-0.9,-0.9,-0.9,-0.9,-0.9,-0.9],
  [-1.05,-1.1,-0.65,-0.83,-0.87,-0.88,-0.88,-0.88,-0.88,-0.88,-0.88,-0.88]
];
const protonR9Err = [0.01, 0.01, 0.01, 0.02, 0.02, 0.02, 0.02,
  [0.03,0.03,0.03,0.5,0.55,0.05,0.05,0.05,0.05,0.05,0.05,0.05],
  [0.05,0.28,0.77,0.1,0.1,0.05,0.05,0.05,0.05,0.05,0.05,0.05]];

const gammaPanels = [gammaR1, gammaR2, gammaR3, gammaR4, gammaR5, gammaR6, gammaR7, gammaR8, gammaR9];
const gammaErrs = [gammaR1Err, gammaR2Err, gammaR3Err, gammaR4Err, gammaR5Err, gammaR6Err, gammaR7Err, gammaR8Err, gammaR9Err];
const protonPanels = [protonR1, protonR2, protonR3, protonR4, protonR5, protonR6, protonR7, protonR8, protonR9];
const protonErrs = [protonR1Err, protonR2Err, protonR3Err, protonR4Err, protonR5Err, protonR6Err, protonR7Err, protonR8Err, protonR9Err];

// ---------- layout ----------
const page = document.getElementById("page");
const colLeft = [57, 386];
const boxW = 274, boxH = 102;
const firstTop = 150, rowPitch = 121.75;
const padL = 30, padT = 8, padR = 22, padB = 20;
const tickFont = { family: "'Liberation Serif', 'DejaVu Serif', serif", size: 16 };

const cbar = document.getElementById("cbar");
energies.forEach((e, i) => {
  const d = document.createElement("div");
  d.style.background = fillColors[i];
  d.textContent = e;
  cbar.appendChild(d);
});

const at = (v, k) => (Array.isArray(v) ? v[k] : v);

const panelDeco = {
  id: "panelDeco",
  beforeDatasetsDraw(chart) {
    const { ctx, chartArea: a, scales: { x, y } } = chart;
    ctx.save();
    ctx.beginPath();
    ctx.rect(a.left, a.top, a.width, a.height);
    ctx.clip();
    const y0 = Math.round(y.getPixelForValue(0)) + 0.5;
    ctx.strokeStyle = "#000";
    ctx.lineWidth = 1.3;
    ctx.beginPath();
    ctx.moveTo(a.left, y0);
    ctx.lineTo(a.right, y0);
    ctx.stroke();
    chart.data.datasets.forEach((ds, i) => {
      const cap = 1.6 + i * 0.3;
      ctx.strokeStyle = barColors[i];
      ctx.lineWidth = 1;
      ds.data.forEach((p) => {
        if (p.x > 2000 || p.err < 0.035) return;
        const px = Math.round(x.getPixelForValue(p.x)) + 0.5;
        const t = y.getPixelForValue(p.y + p.err);
        const b = y.getPixelForValue(p.y - p.err);
        ctx.beginPath();
        ctx.moveTo(px, t); ctx.lineTo(px, b);
        ctx.moveTo(px - cap, t); ctx.lineTo(px + cap, t);
        ctx.moveTo(px - cap, b); ctx.lineTo(px + cap, b);
        ctx.stroke();
      });
    });
    ctx.restore();
  },
  afterDraw(chart) {
    const { ctx, chartArea: a, scales: { x, y } } = chart;
    ctx.save();
    ctx.strokeStyle = "#333";
    ctx.lineWidth = 1;
    ctx.beginPath();
    for (let v = 0; v <= 2000; v += 100) {
      const px = Math.round(x.getPixelForValue(v)) + 0.5;
      const len = v % 500 === 0 ? 5 : 2.5;
      ctx.moveTo(px, a.bottom); ctx.lineTo(px, a.bottom - len);
      ctx.moveTo(px, a.top); ctx.lineTo(px, a.top + len);
    }
    for (let j = -6; j <= 6; j++) {
      const v = j * 0.2;
      const py = Math.round(y.getPixelForValue(v)) + 0.5;
      const len = j % 5 === 0 ? 5 : 2.5;
      ctx.moveTo(a.left, py); ctx.lineTo(a.left + len, py);
      ctx.moveTo(a.right, py); ctx.lineTo(a.right - len, py);
    }
    ctx.stroke();
    ctx.lineWidth = 1.2;
    ctx.strokeRect(a.left + 0.5, a.top + 0.5, a.width - 1, a.height - 1);
    ctx.restore();
  }
};

function buildDatasets(vals, errs) {
  return energies.map((label, e) => ({
    label,
    data: binX.map((bx, k) => ({ x: bx + e * energyStep, y: vals[e][k], err: at(errs[e], k) })),
    backgroundColor: fillColors[e],
    pointStyle: "rect",
    pointRadius: 2.1 + e * 0.36,
    borderWidth: 0,
    showLine: false,
    order: 8 - e
  }));
}

function makePanel(col, row, vals, errs) {
  const left = colLeft[col] - padL;
  const top = Math.round(firstTop + row * rowPitch) - padT;
  const cv = document.createElement("canvas");
  cv.width = padL + boxW + padR;
  cv.height = padT + boxH + padB;
  cv.style.left = left + "px";
  cv.style.top = top + "px";
  page.appendChild(cv);

  new Chart(cv, {
    type: "scatter",
    data: { datasets: buildDatasets(vals, errs) },
    options: {
      responsive: false,
      animation: false,
      events: [],
      layout: { padding: { top: padT, right: padR, left: 0, bottom: 0 } },
      plugins: { legend: { display: false }, tooltip: { enabled: false } },
      scales: {
        x: {
          type: "linear", min: 0, max: 2000,
          grid: { display: false, drawTicks: false },
          border: { display: false },
          afterBuildTicks: (s) => { s.ticks = xTicks.map((v) => ({ value: v })); },
          afterFit: (s) => { s.height = padB; s.paddingLeft = 0; s.paddingRight = 0; },
          ticks: { font: tickFont, color: "#222", padding: 1, maxRotation: 0, autoSkip: false, callback: (v) => String(v) }
        },
        y: {
          type: "linear", min: -1.2, max: 1.2,
          grid: { display: false, drawTicks: false },
          border: { display: false },
          afterBuildTicks: (s) => { s.ticks = yTicks.map((v) => ({ value: v })); },
          afterFit: (s) => { s.width = padL; s.paddingTop = 0; s.paddingBottom = 0; },
          ticks: { font: tickFont, color: "#222", padding: 5, callback: (v) => String(v) }
        }
      }
    },
    plugins: [panelDeco]
  });
}

for (let r = 0; r < 9; r++) {
  makePanel(0, r, gammaPanels[r], gammaErrs[r]);
  makePanel(1, r, protonPanels[r], protonErrs[r]);
  const cy = firstTop + r * rowPitch + boxH / 2;
  const la = document.createElement("div");
  la.className = "abs rot";
  la.style.cssText = `left:672px; top:${cy}px; font-size:16px;`;
  la.innerHTML = `<i>a</i> = ${rowA[r]}`;
  page.appendChild(la);
  const lb = document.createElement("div");
  lb.className = "abs rot";
  lb.style.cssText = `left:697px; top:${cy}px; font-size:16px;`;
  lb.innerHTML = `<i>E</i><span class="ss">thr<br><i>γA</i></span>= 10<sup>${rowThr[r]}</sup> eV`;
  page.appendChild(lb);
}
</script>
</body>
</html>
